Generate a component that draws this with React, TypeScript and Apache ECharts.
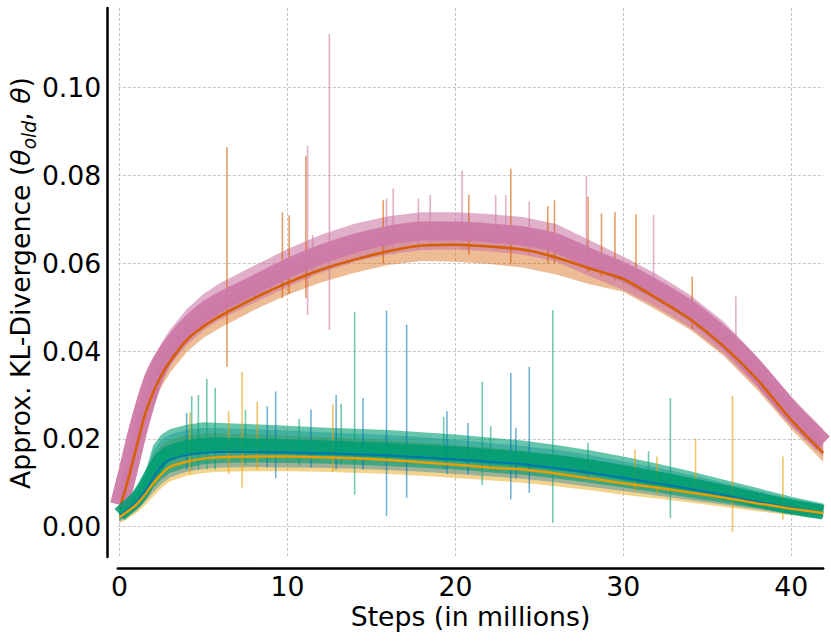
import React, { useEffect, useRef } from "react";
import * as echarts from "echarts";

// x positions (millions of steps) at which the curves were read
const steps = [0, 0.5, 1, 1.5, 2, 2.5, 3, 4, 5, 6, 8, 10, 12, 14, 16, 18, 20, 22, 24, 26, 28, 30, 32, 34, 36, 38, 40, 41.9];

// upper group — pink (#CC79A7)
const pinkMean = [0.005, 0.0125, 0.0205, 0.0275, 0.0335, 0.0375, 0.0405, 0.0452, 0.0487, 0.0512, 0.055, 0.0588, 0.062, 0.0645, 0.0663, 0.0673, 0.0673, 0.0669, 0.0662, 0.0646, 0.0612, 0.058, 0.0539, 0.0492, 0.043, 0.0352, 0.0262, 0.019];
const pinkHi = [0.0085, 0.0165, 0.0245, 0.0315, 0.0375, 0.0418, 0.0448, 0.0495, 0.053, 0.0555, 0.0594, 0.0632, 0.0665, 0.069, 0.0707, 0.0716, 0.0716, 0.0712, 0.0705, 0.0689, 0.0652, 0.0615, 0.0575, 0.0527, 0.0466, 0.0386, 0.0296, 0.0222];
const pinkLo = [0.0025, 0.009, 0.0168, 0.0238, 0.0298, 0.0338, 0.0368, 0.0413, 0.0447, 0.0472, 0.051, 0.0546, 0.0578, 0.0603, 0.062, 0.063, 0.0631, 0.0627, 0.062, 0.0604, 0.057, 0.0539, 0.0499, 0.0453, 0.0393, 0.0317, 0.0229, 0.016];

// upper group — vermilion (#D55E00)
const vermMean = [0.004, 0.0105, 0.018, 0.0253, 0.0305, 0.0345, 0.0376, 0.0425, 0.0456, 0.048, 0.052, 0.0555, 0.0585, 0.0608, 0.0627, 0.064, 0.0642, 0.0638, 0.0631, 0.0613, 0.0588, 0.0564, 0.052, 0.0472, 0.041, 0.0334, 0.0243, 0.0168];
const vermHi = [0.007, 0.014, 0.0215, 0.029, 0.0342, 0.0382, 0.0413, 0.0462, 0.0494, 0.0518, 0.0558, 0.0594, 0.0624, 0.0648, 0.0667, 0.068, 0.0682, 0.0678, 0.067, 0.0652, 0.0626, 0.06, 0.0556, 0.0507, 0.0444, 0.0366, 0.0274, 0.0197];
const vermLo = [0.0018, 0.0078, 0.0152, 0.0226, 0.0278, 0.0318, 0.035, 0.0398, 0.043, 0.0453, 0.0493, 0.0528, 0.0556, 0.0578, 0.0596, 0.0605, 0.0603, 0.0598, 0.059, 0.0574, 0.0552, 0.0535, 0.0493, 0.0448, 0.0388, 0.031, 0.0222, 0.0148];

// lower group — green (#009E73)
const greenMean = [0.0028, 0.0045, 0.0062, 0.009, 0.0125, 0.0155, 0.0168, 0.018, 0.0185, 0.0186, 0.0184, 0.0182, 0.018, 0.0177, 0.0174, 0.017, 0.0166, 0.016, 0.0154, 0.0146, 0.0136, 0.0123, 0.0109, 0.0094, 0.0078, 0.0061, 0.0045, 0.0033];
const greenHi = [0.0042, 0.0062, 0.0085, 0.0118, 0.0185, 0.021, 0.0222, 0.0232, 0.0238, 0.0236, 0.0233, 0.023, 0.0226, 0.0223, 0.022, 0.0215, 0.021, 0.0203, 0.0196, 0.0186, 0.0174, 0.016, 0.0144, 0.0126, 0.0107, 0.0088, 0.0068, 0.0053];
const greenLo = [0.0014, 0.0028, 0.0042, 0.0064, 0.0088, 0.0108, 0.0122, 0.0135, 0.0142, 0.0145, 0.0146, 0.0145, 0.0144, 0.0141, 0.0138, 0.0134, 0.013, 0.0124, 0.0118, 0.011, 0.01, 0.0089, 0.0078, 0.0066, 0.0054, 0.0042, 0.003, 0.0022];

// lower group — blue (#0072B2)
const blueMean = [0.0025, 0.004, 0.0056, 0.008, 0.011, 0.0138, 0.0152, 0.0163, 0.0168, 0.017, 0.017, 0.0169, 0.0167, 0.0165, 0.0162, 0.0158, 0.0153, 0.0148, 0.0142, 0.0133, 0.0123, 0.0111, 0.0099, 0.0086, 0.0072, 0.0057, 0.0043, 0.0032];
const blueHi = [0.0038, 0.0057, 0.0078, 0.0112, 0.0172, 0.0198, 0.021, 0.022, 0.0225, 0.0224, 0.0222, 0.0219, 0.0215, 0.0212, 0.0209, 0.0204, 0.0198, 0.0191, 0.0184, 0.0175, 0.0163, 0.0149, 0.0134, 0.0118, 0.01, 0.0082, 0.0064, 0.0049];
const blueLo = [0.0011, 0.0023, 0.0036, 0.0056, 0.0078, 0.0098, 0.0112, 0.0125, 0.0132, 0.0135, 0.0136, 0.0135, 0.0134, 0.0132, 0.0129, 0.0125, 0.012, 0.0115, 0.0109, 0.0101, 0.0091, 0.0081, 0.0071, 0.006, 0.005, 0.0039, 0.0028, 0.0021];

// lower group — orange (#E69F00)
const orangeMean = [0.0022, 0.0035, 0.005, 0.0072, 0.0098, 0.012, 0.0136, 0.0148, 0.0155, 0.0158, 0.016, 0.016, 0.0158, 0.0156, 0.0152, 0.0147, 0.0141, 0.0135, 0.013, 0.0121, 0.011, 0.0099, 0.0089, 0.0078, 0.0066, 0.0053, 0.0041, 0.0031];
const orangeHi = [0.0035, 0.0052, 0.0072, 0.0105, 0.016, 0.0185, 0.0198, 0.0208, 0.0212, 0.0212, 0.021, 0.0207, 0.0204, 0.0201, 0.0197, 0.0192, 0.0186, 0.018, 0.0173, 0.0164, 0.0152, 0.0139, 0.0125, 0.011, 0.0094, 0.0077, 0.006, 0.0046];
const orangeLo = [0.0008, 0.0018, 0.0031, 0.0048, 0.0068, 0.0088, 0.0103, 0.0116, 0.0122, 0.0125, 0.0126, 0.0126, 0.0125, 0.0123, 0.012, 0.0116, 0.0111, 0.0106, 0.01, 0.0092, 0.0083, 0.0073, 0.0064, 0.0055, 0.0045, 0.0035, 0.0026, 0.0019];

// isolated spikes: [step, low, high]
const vermSpikes = [[6.4, 0.0364, 0.0864], [9.7, 0.052, 0.0716], [10.1, 0.053, 0.0709], [11.1, 0.052, 0.0844], [15.7, 0.06, 0.0743], [20.8, 0.062, 0.0756], [23.3, 0.06, 0.0815], [25.5, 0.06, 0.073], [25.9, 0.06, 0.0743], [27.9, 0.058, 0.0751], [28.7, 0.057, 0.0713], [29.5, 0.056, 0.0716], [30.75, 0.054, 0.0711], [34.1, 0.045, 0.0569]];
const pinkSpikes = [[4.9, 0.045, 0.049], [11.2, 0.0482, 0.0867], [11.5, 0.058, 0.0664], [12.5, 0.0448, 0.1122], [15.9, 0.062, 0.0747], [16.3, 0.062, 0.077], [17.8, 0.063, 0.0747], [18.5, 0.063, 0.0755], [20.4, 0.063, 0.0811], [22.4, 0.063, 0.0755], [23.0, 0.063, 0.0755], [24.4, 0.062, 0.074], [27.8, 0.058, 0.0798], [31.8, 0.052, 0.071], [36.7, 0.04, 0.0524]];
const greenSpikes = [[4.3, 0.013, 0.0297], [4.7, 0.013, 0.03], [5.2, 0.013, 0.0336], [5.7, 0.013, 0.0316], [7.5, 0.014, 0.0266], [10.7, 0.014, 0.0245], [13.2, 0.014, 0.028], [14.0, 0.0073, 0.0489], [19.3, 0.013, 0.025], [21.6, 0.0095, 0.033], [22.1, 0.013, 0.0229], [25.8, 0.0009, 0.0493], [27.9, 0.011, 0.0191], [31.5, 0.009, 0.0172], [32.8, 0.002, 0.0293]];
const blueSpikes = [[4.0, 0.013, 0.0259], [8.8, 0.0135, 0.0274], [9.3, 0.011, 0.0308], [11.4, 0.0135, 0.0267], [12.9, 0.013, 0.03], [14.5, 0.013, 0.0293], [15.9, 0.0024, 0.0492], [17.1, 0.0066, 0.046], [19.5, 0.012, 0.0263], [20.75, 0.012, 0.0236], [23.3, 0.0062, 0.035], [23.6, 0.011, 0.0225], [24.4, 0.0077, 0.0364]];
const orangeSpikes = [[4.2, 0.012, 0.026], [6.5, 0.012, 0.0263], [7.3, 0.0089, 0.0353], [8.2, 0.013, 0.0285], [12.7, 0.0125, 0.0278], [30.7, 0.008, 0.0176], [32.0, 0.0075, 0.016], [34.3, 0.0085, 0.02], [36.5, -0.0011, 0.0298], [39.5, 0.0016, 0.016]];

const xTicks = [0, 10, 20, 30, 40];
const yTicks = [0, 0.02, 0.04, 0.06, 0.08, 0.1];

const FONT = "DejaVu Sans";
const FS = 26.7;

function rgba(hex: string, a: number) {
  const n = parseInt(hex.slice(1), 16);
  return `rgba(${(n >> 16) & 255},${(n >> 8) & 255},${n & 255},${a})`;
}

function bandSeries(lo: number[], hi: number[], color: string, alpha: number) {
  return {
    type: "custom",
    silent: true,
    data: [[0, 0]],
    renderItem: (_p: any, api: any) => {
      const pts: number[][] = [];
      for (let i = 0; i < steps.length; i++) pts.push(api.coord([steps[i], hi[i]]));
      for (let i = steps.length - 1; i >= 0; i--) pts.push(api.coord([steps[i], lo[i]]));
      return { type: "polygon", shape: { points: pts }, style: { fill: rgba(color, alpha) } };
    },
  };
}

function coreSeries(mean: number[], color: string, width: number, alpha: number) {
  return {
    type: "line",
    silent: true,
    showSymbol: false,
    smooth: 0.2,
    data: steps.map((x, i) => [x, mean[i]]),
    lineStyle: { color: rgba(color, alpha), width },
  };
}

function spikeSeries(spikes: number[][], color: string, alpha: number) {
  return {
    type: "custom",
    silent: true,
    data: spikes,
    encode: { x: 0, y: [1, 2] },
    renderItem: (_p: any, api: any) => {
      const a = api.coord([api.value(0), api.value(1)]);
      const b = api.coord([api.value(0), api.value(2)]);
      return {
        type: "line",
        shape: { x1: a[0], y1: a[1], x2: b[0], y2: b[1] },
        style: { stroke: rgba(color, alpha), lineWidth: 1.6 },
      };
    },
  };
}

const gridLine = { show: true, lineStyle: { color: "#b8b8b8", type: [3, 2] as any, width: 0.8 } };

export default function App() {
  const ref = useRef<HTMLDivElement>(null);
  useEffect(() => {
    if (!ref.current) return;
    const chart = echarts.init(ref.current, null, { renderer: "svg" });
    chart.setOption({
      animation: false,
      backgroundColor: "#ffffff",
      grid: { left: 117.8, right: 7.8, top: 8, bottom: 84, containLabel: false, outerBoundsMode: "none" } as any,
      xAxis: {
        type: "value",
        min: -0.1,
        max: 41.9,
        offset: 11.3,
        name: "Steps (in millions)",
        nameLocation: "middle",
        nameGap: 35,
        nameMoveOverlap: false,
        nameTextStyle: { fontSize: FS, color: "#000", fontFamily: FONT },
        axisLine: { show: true, onZero: false, lineStyle: { color: "#000", width: 2.5 } },
        axisTick: { show: false, customValues: xTicks },
        axisLabel: { customValues: xTicks, fontSize: FS, color: "#000", fontFamily: FONT, margin: 5 },
        splitLine: gridLine,
      },
      yAxis: {
        type: "value",
        min: -0.0069,
        max: 0.1181,
        offset: 10.5,
        axisLine: { show: true, onZero: false, lineStyle: { color: "#000", width: 2.5 } },
        axisTick: { show: false, customValues: yTicks },
        axisLabel: {
          customValues: yTicks,
          formatter: (v: number) => v.toFixed(2),
          fontSize: FS,
          color: "#000",
          fontFamily: FONT,
          margin: 6,
        },
        splitLine: gridLine,
      },
      graphic: [
        {
          type: "text",
          x: 20.5,
          y: 283,
          rotation: Math.PI / 2,
          silent: true,
          style: {
            text: "{n|Approx. KL-Divergence (}{i|θ}{s|old}{n|, }{i|θ}{n|)}",
            align: "center",
            verticalAlign: "middle",
            fill: "#000",
            rich: {
              n: { fontSize: FS, fontFamily: FONT, fill: "#000", lineHeight: 36 },
              i: { fontSize: FS, fontFamily: FONT, fontStyle: "italic", fill: "#000", lineHeight: 36 },
              s: { fontSize: 18.7, fontFamily: FONT, fontStyle: "italic", fill: "#000", lineHeight: 19, verticalAlign: "bottom" },
            },
          },
        },
      ],
      series: [
        bandSeries(vermLo, vermHi, "#D55E00", 0.42),
        bandSeries(pinkLo, pinkHi, "#CC79A7", 0.6),
        spikeSeries(vermSpikes, "#D55E00", 0.6),
        spikeSeries(pinkSpikes, "#CC79A7", 0.6),
        coreSeries(pinkMean, "#CC79A7", 19, 0.95),
        coreSeries(vermMean, "#D55E00", 2.5, 1),
        bandSeries(orangeLo, orangeHi, "#E69F00", 0.45),
        bandSeries(blueLo, blueHi, "#0072B2", 0.35),
        bandSeries(greenLo, greenHi, "#009E73", 0.6),
        spikeSeries(orangeSpikes, "#E69F00", 0.6),
        spikeSeries(blueSpikes, "#0072B2", 0.55),
        spikeSeries(greenSpikes, "#009E73", 0.55),
        coreSeries(greenMean, "#009E73", 15, 0.85),
        coreSeries(blueMean, "#0072B2", 2, 0.9),
        coreSeries(orangeMean, "#E69F00", 2.5, 1),
      ],
    });
    return () => chart.dispose();
  }, []);
  return <div ref={ref} style={{ position: "fixed", left: 0, top: 0, width: 831, height: 641 }} />;
}
